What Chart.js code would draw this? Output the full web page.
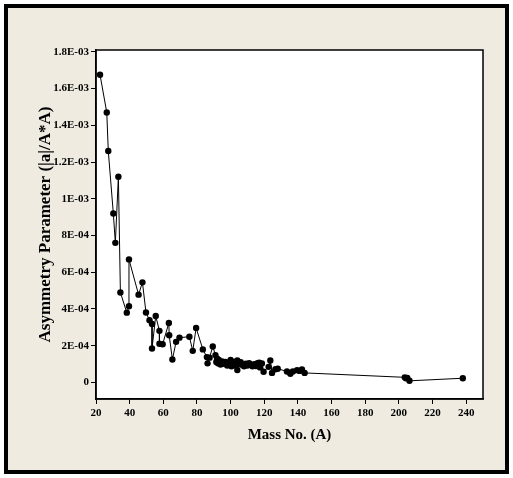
<!DOCTYPE html>
<html>
<head>
<meta charset="utf-8">
<title>Asymmetry Parameter vs Mass No.</title>
<script src="https://cdn.jsdelivr.net/npm/chart.js@4/dist/chart.umd.min.js"></script>
<style>
  html, body { margin:0; padding:0; background:#fff; }
  #frame { position:absolute; left:4px; top:4px; width:497px; height:462px; border:4px solid #000; background:#efebe1; }
  #chartbox { position:absolute; left:0; top:0; width:513px; height:478px; }
</style>
</head>
<body>
<div id="frame"></div>
<div id="chartbox"><canvas id="lineChart" width="513" height="478"></canvas></div>
<script>
// values
var massNo = [22.4, 26.4, 27.3, 30.3, 31.5, 33.3, 34.5, 38.3, 39.6, 39.6,
  45.3, 47.6, 49.7, 51.8, 53.3, 53.3, 55.5, 57.7, 57.7, 59.6,
  63.3, 63.5, 65.4, 67.6, 69.6, 75.5, 77.5, 79.5, 83.5, 85.9,
  86.3, 87.5, 89.4, 91, 91.5, 92, 92.5, 93, 94, 95,
  96, 97, 98, 99, 100, 100.5, 101, 102, 103, 104,
  104, 105, 106, 107, 108, 109, 110, 111, 112, 113,
  114, 115, 116, 117, 117.5, 118.6, 119.6, 122.6, 123.6, 124.6,
  126.6, 128, 133.5, 135.5, 137, 139.5, 141, 142.4, 144, 203.5,
  204.2, 205, 206.3, 238];

var asymParam = [16.75e-4, 14.7e-4, 12.6e-4, 9.2e-4, 7.6e-4, 11.2e-4, 4.9e-4, 3.8e-4, 4.15e-4, 6.7e-4,
  4.78e-4, 5.45e-4, 3.81e-4, 3.39e-4, 3.18e-4, 1.85e-4, 3.62e-4, 2.81e-4, 2.11e-4, 2.08e-4,
  3.24e-4, 2.57e-4, 1.25e-4, 2.21e-4, 2.44e-4, 2.49e-4, 1.72e-4, 2.97e-4, 1.8e-4, 1.38e-4,
  1.04e-4, 1.35e-4, 1.96e-4, 1.49e-4, 1.12e-4, 1.3e-4, 1.05e-4, 1.22e-4, 0.98e-4, 1.15e-4,
  1.02e-4, 1.12e-4, 0.92e-4, 1.08e-4, 1.22e-4, 0.88e-4, 1.02e-4, 1.12e-4, 0.92e-4, 1.2e-4,
  0.68e-4, 1.0e-4, 1.1e-4, 0.95e-4, 0.88e-4, 1.02e-4, 0.92e-4, 1.05e-4, 0.95e-4, 0.88e-4,
  1.0e-4, 0.9e-4, 1.05e-4, 1.08e-4, 0.82e-4, 1.03e-4, 0.58e-4, 0.85e-4, 1.2e-4, 0.52e-4,
  0.72e-4, 0.75e-4, 0.6e-4, 0.47e-4, 0.6e-4, 0.67e-4, 0.63e-4, 0.71e-4, 0.52e-4, 0.28e-4,
  0.23e-4, 0.25e-4, 0.09e-4, 0.23e-4];

// tick values and labels
var xTickValues = [20, 40, 60, 80, 100, 120, 140, 160, 180, 200, 220, 240];
var xTickLabels = ["20", "40", "60", "80", "100", "120", "140", "160", "180", "200", "220", "240"];
var yTickValues = [0, 2e-4, 4e-4, 6e-4, 8e-4, 10e-4, 12e-4, 14e-4, 16e-4, 18e-4];
var yTickLabels = ["0", "2E-04", "4E-04", "6E-04", "8E-04", "1E-03", "1.2E-03", "1.4E-03", "1.6E-03", "1.8E-03"];

var points = [];
for (var i = 0; i < massNo.length; i++) {
  points.push({x: massNo[i], y: asymParam[i]});
}

var serif = "'Liberation Serif', 'Times New Roman', serif";

// white plot box with a frame round it
var plotBox = {
  id: 'plotBox',
  beforeDraw: function(chart) {
    var a = chart.chartArea, ctx = chart.ctx;
    ctx.save();
    ctx.fillStyle = '#fff';
    ctx.fillRect(a.left, a.top, a.right - a.left, a.bottom - a.top);
    ctx.restore();
  },
  afterDraw: function(chart) {
    var a = chart.chartArea, ctx = chart.ctx;
    ctx.save();
    ctx.strokeStyle = '#000';
    ctx.lineWidth = 1.5;
    ctx.strokeRect(a.left, a.top, a.right - a.left, a.bottom - a.top);
    ctx.restore();
  }
};

var config = {
  type: 'line',
  data: {
    datasets: [{
      data: points,
      borderColor: '#000',
      borderWidth: 1,
      backgroundColor: '#000',
      pointRadius: 3.2,
      pointBorderWidth: 0,
      pointBackgroundColor: '#000',
      tension: 0
    }]
  },
  options: {
    responsive: false,
    animation: false,
    devicePixelRatio: 1,
    layout: { padding: { left: 31, right: 30, top: 50, bottom: 30 } },
    plugins: { legend: { display: false }, tooltip: { enabled: false } },
    scales: {
      x: {
        type: 'linear',
        min: 20,
        max: 250,
        afterBuildTicks: function(scale) {
          scale.ticks = xTickValues.map(function(v) { return {value: v}; });
        },
        afterFit: function(scale) { scale.height = 49; },
        grid: { drawOnChartArea: false, drawTicks: true, tickLength: 5, color: '#000', lineWidth: 1 },
        border: { display: true, color: '#000', width: 1.5 },
        ticks: {
          autoSkip: false, maxRotation: 0, padding: 3, color: '#000',
          font: { family: serif, size: 11, weight: 'bold', lineHeight: 1.2 },
          callback: function(value, index) { return xTickLabels[index]; }
        },
        title: {
          display: true, text: 'Mass No. (A)', color: '#000',
          font: { family: serif, size: 15, weight: 'bold', lineHeight: 1.2 }
        }
      },
      y: {
        type: 'linear',
        min: -0.9e-4,
        max: 18.1e-4,
        afterBuildTicks: function(scale) {
          scale.ticks = yTickValues.map(function(v) { return {value: v}; });
        },
        afterFit: function(scale) { scale.width = 65; },
        grid: { drawOnChartArea: false, drawTicks: true, tickLength: 5, color: '#000', lineWidth: 1 },
        border: { display: true, color: '#000', width: 1.5 },
        ticks: {
          autoSkip: false, padding: 2, color: '#000',
          font: { family: serif, size: 11, weight: 'bold', lineHeight: 1.2 },
          callback: function(value, index) { return yTickLabels[index]; }
        },
        title: {
          display: true, text: 'Asymmetry Parameter (|a|/A*A)', color: '#000',
          font: { family: serif, size: 17, weight: 'bold', lineHeight: 1.2 }
        }
      }
    }
  },
  plugins: [plotBox]
};

var ctx = document.getElementById("lineChart");
var charts = new Chart(ctx, config);
</script>
</body>
</html>
